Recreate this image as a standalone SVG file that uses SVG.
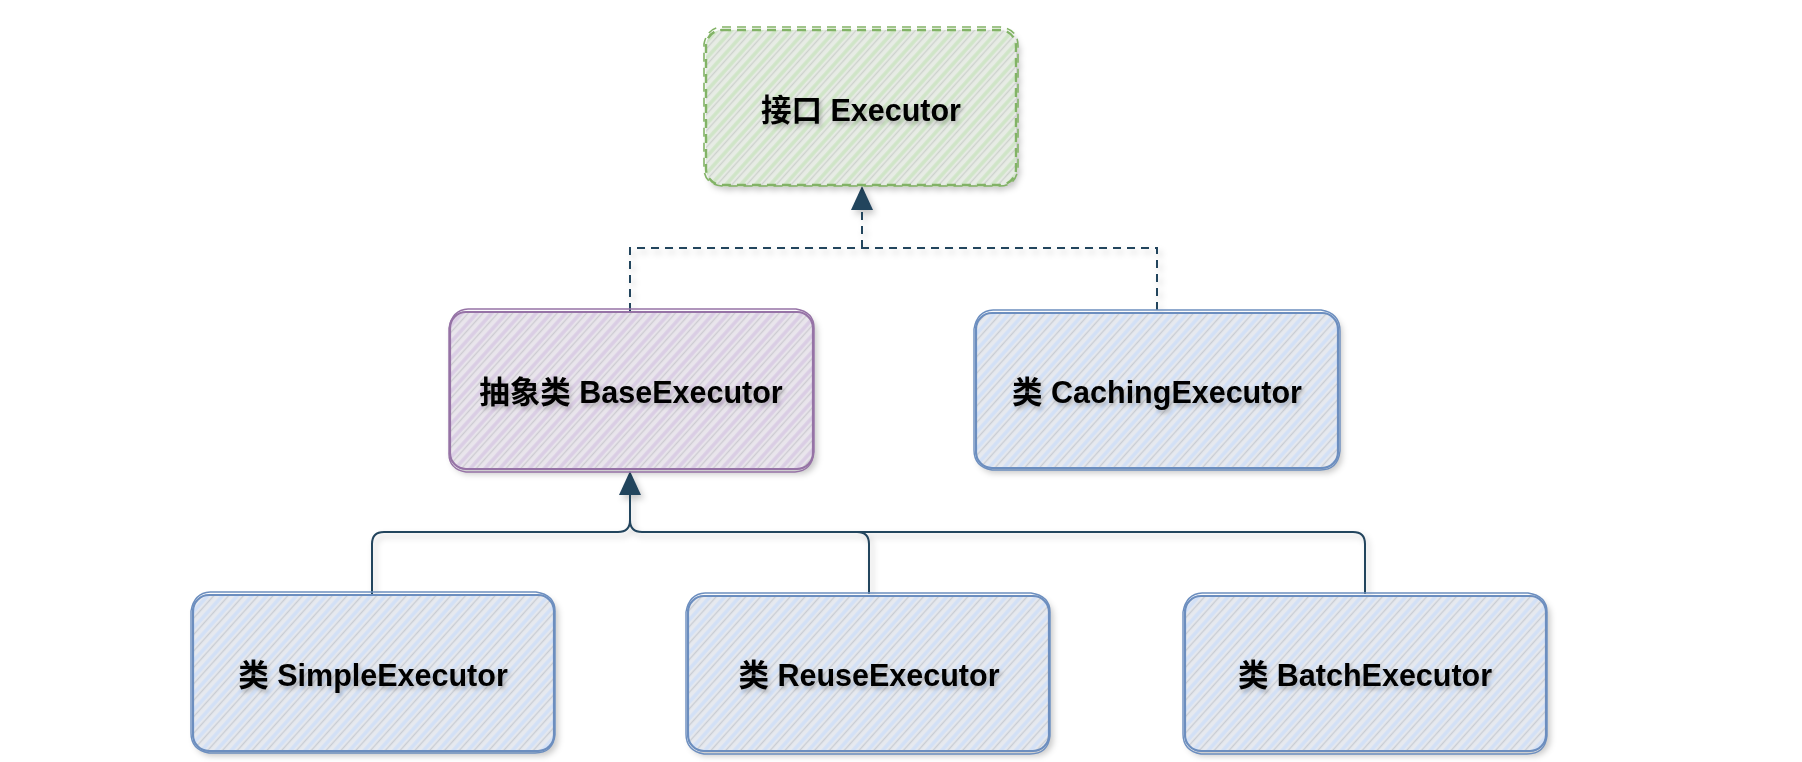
<svg xmlns="http://www.w3.org/2000/svg" width="1802" height="762" viewBox="0 0 1802 762">
<defs>
  <filter id="sh" x="-10%" y="-10%" width="125%" height="130%">
    <feDropShadow dx="3" dy="4" stdDeviation="3" flood-color="#000" flood-opacity="0.22"/>
  </filter>
  <filter id="tsh" x="-10%" y="-30%" width="120%" height="170%">
    <feDropShadow dx="2" dy="3" stdDeviation="2" flood-color="#000" flood-opacity="0.25"/>
  </filter>
  <pattern id="hb" width="11" height="11" patternUnits="userSpaceOnUse" patternTransform="rotate(42)">
    <rect width="11" height="11" fill="#e6e9ef"/>
    <line x1="3" y1="0" x2="3" y2="11" stroke="#d2e0f6" stroke-width="3.5"/>
    <line x1="7.5" y1="0" x2="7.5" y2="11" stroke="#c9cdd4" stroke-width="1.4"/>
  </pattern>
  <pattern id="hp" width="11" height="11" patternUnits="userSpaceOnUse" patternTransform="rotate(42)">
    <rect width="11" height="11" fill="#e9e5ec"/>
    <line x1="3" y1="0" x2="3" y2="11" stroke="#dacde4" stroke-width="3.5"/>
    <line x1="7.5" y1="0" x2="7.5" y2="11" stroke="#cdcbd2" stroke-width="1.4"/>
  </pattern>
  <pattern id="hg" width="11" height="11" patternUnits="userSpaceOnUse" patternTransform="rotate(42)">
    <rect width="11" height="11" fill="#e7ece5"/>
    <line x1="3" y1="0" x2="3" y2="11" stroke="#cfe5c7" stroke-width="3.5"/>
    <line x1="7.5" y1="0" x2="7.5" y2="11" stroke="#cdd2cd" stroke-width="1.4"/>
  </pattern>
  <marker id="arr" viewBox="0 0 24 22" refX="1" refY="11" markerWidth="24" markerHeight="22" markerUnits="userSpaceOnUse" orient="auto">
    <path d="M24 11 L0 0 L0 22 Z" fill="#23445d"/>
  </marker>
</defs>
<style>
  .lbl { font-family: "Liberation Sans", Arial, "Noto Sans CJK SC", sans-serif; font-weight: bold; font-size: 30.5px; fill: #000; text-anchor: middle; dominant-baseline: central; }
  .blue { fill: url(#hb); stroke: #6c8ebf; stroke-width: 2.2; }
  .blue2 { fill: none; stroke: #6c8ebf; stroke-width: 1.4; }
  .purple { fill: url(#hp); stroke: #9673a6; stroke-width: 2.2; }
  .purple2 { fill: none; stroke: #9673a6; stroke-width: 1.4; }
  .green { fill: url(#hg); stroke: #82b366; stroke-width: 2.4; stroke-dasharray: 9 6; }
  .green2 { fill: none; stroke: #82b366; stroke-width: 1.6; stroke-dasharray: 9 6; }
  .conn { fill: none; stroke: #23445d; stroke-width: 2; }
  .dash { stroke-dasharray: 8 6; }
</style>
<rect width="1802" height="762" fill="#ffffff"/>

<g id="connectors" filter="url(#sh)">
  <path class="conn dash" d="M630 311 V248 H1157 V313"/>
  <path class="conn dash" d="M862 248 V209" marker-end="url(#arr)"/>
  <path class="conn" d="M372 594 V544 Q372 532 384 532 H618 Q630 532 630 520 V494" marker-end="url(#arr)"/>
  <path class="conn" d="M869 594 V544 Q869 532 857 532 H642 Q630 532 630 520"/>
  <path class="conn" d="M1365 594 V544 Q1365 532 1353 532 H857"/>
</g>

<g id="node-executor">
  <rect class="green" x="706" y="30" width="310" height="155" rx="16" filter="url(#sh)"/>
  <path class="green2" d="M722 27 H1000 Q1018 29 1018 46 V168 Q1016 187 998 186 H722 Q704 184 704 168 V44 Q707 28 722 27 Z"/>
  <text class="lbl" x="861" y="110" filter="url(#tsh)">接口 Executor</text>
</g>

<g id="node-base">
  <rect class="purple" x="450" y="312" width="363" height="157" rx="16" filter="url(#sh)"/>
  <path class="purple2" d="M468 309 H796 Q815 312 814 330 V452 Q812 471 795 472 H466 Q448 469 449 452 V328 Q452 310 468 309"/>
  <text class="lbl" x="631" y="392" filter="url(#tsh)">抽象类 BaseExecutor</text>
</g>

<g id="node-caching">
  <rect class="blue" x="976" y="313" width="362" height="155" rx="16" filter="url(#sh)"/>
  <path class="blue2" d="M993 310 H1321 Q1340 313 1340 331 V451 Q1338 470 1320 470 H992 Q974 467 974 450 V329 Q977 311 993 310"/>
  <text class="lbl" x="1157" y="392" filter="url(#tsh)">类 CachingExecutor</text>
</g>

<g id="node-simple">
  <rect class="blue" x="193" y="595" width="361" height="156" rx="16" filter="url(#sh)"/>
  <path class="blue2" d="M210 592 H536 Q556 595 555 613 V735 Q553 753 535 753 H209 Q191 750 191 733 V611 Q194 593 210 592"/>
  <text class="lbl" x="373" y="675" filter="url(#tsh)">类 SimpleExecutor</text>
</g>

<g id="node-reuse">
  <rect class="blue" x="688" y="596" width="361" height="155" rx="16" filter="url(#sh)"/>
  <path class="blue2" d="M705 593 H1031 Q1051 596 1050 614 V736 Q1048 754 1030 754 H704 Q686 751 686 734 V612 Q689 594 705 593"/>
  <text class="lbl" x="869" y="675" filter="url(#tsh)">类 ReuseExecutor</text>
</g>

<g id="node-batch">
  <rect class="blue" x="1185" y="596" width="361" height="155" rx="16" filter="url(#sh)"/>
  <path class="blue2" d="M1202 593 H1528 Q1548 596 1547 614 V736 Q1545 754 1527 754 H1201 Q1183 751 1183 734 V612 Q1186 594 1202 593"/>
  <text class="lbl" x="1365" y="675" filter="url(#tsh)">类 BatchExecutor</text>
</g>
</svg>
